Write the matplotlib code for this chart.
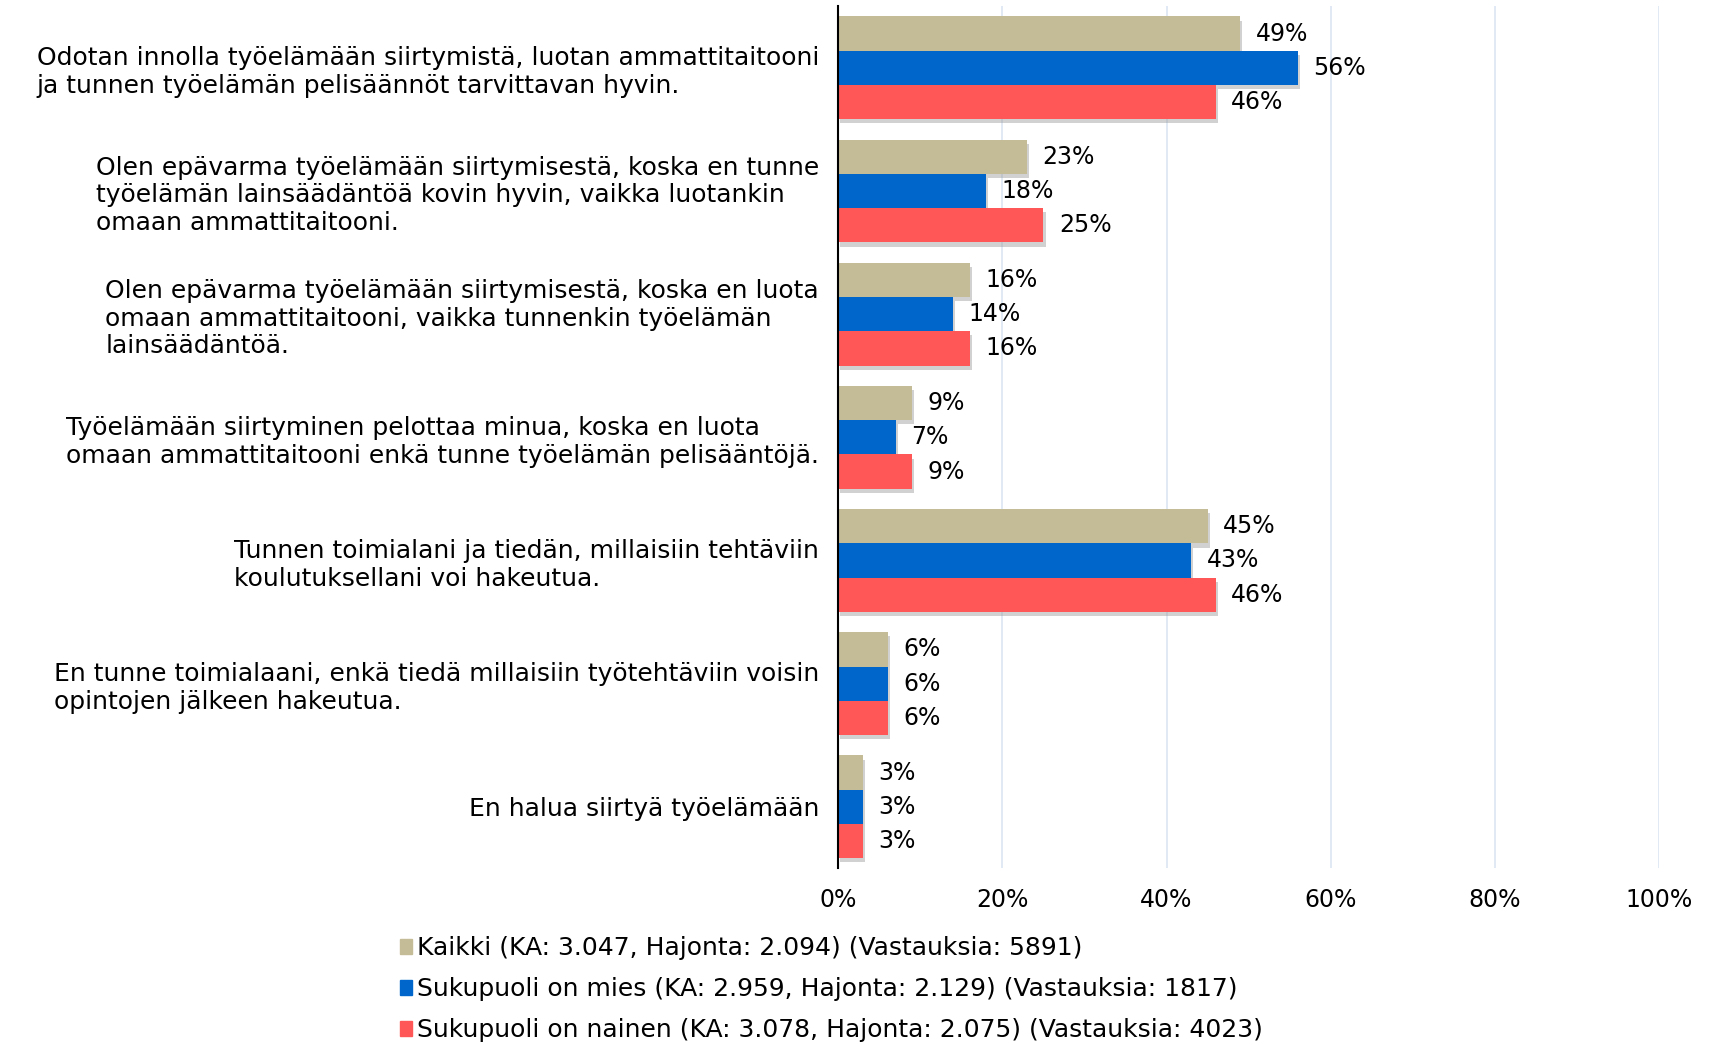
import matplotlib
matplotlib.use("Agg")
import matplotlib.pyplot as plt
import matplotlib.patheffects as pe
from matplotlib.patches import Patch
from matplotlib.ticker import PercentFormatter

categories = [
    "Odotan innolla työelämään siirtymistä, luotan ammattitaitooni\nja tunnen työelämän pelisäännöt tarvittavan hyvin.",
    "Olen epävarma työelämään siirtymisestä, koska en tunne\ntyöelämän lainsäädäntöä kovin hyvin, vaikka luotankin\nomaan ammattitaitooni.",
    "Olen epävarma työelämään siirtymisestä, koska en luota\nomaan ammattitaitooni, vaikka tunnenkin työelämän\nlainsäädäntöä.",
    "Työelämään siirtyminen pelottaa minua, koska en luota\nomaan ammattitaitooni enkä tunne työelämän pelisääntöjä.",
    "Tunnen toimialani ja tiedän, millaisiin tehtäviin\nkoulutuksellani voi hakeutua.",
    "En tunne toimialaani, enkä tiedä millaisiin työtehtäviin voisin\nopintojen jälkeen hakeutua.",
    "En halua siirtyä työelämään",
]
kaikki = [49, 23, 16, 9, 45, 6, 3]
mies = [56, 18, 14, 7, 43, 6, 3]
nainen = [46, 25, 16, 9, 46, 6, 3]
series_labels = [
    "Kaikki (KA: 3.047, Hajonta: 2.094) (Vastauksia: 5891)",
    "Sukupuoli on mies (KA: 2.959, Hajonta: 2.129) (Vastauksia: 1817)",
    "Sukupuoli on nainen (KA: 3.078, Hajonta: 2.075) (Vastauksia: 4023)",
]
colors = ["#C4BC96", "#0066CC", "#FF5757"]

plt.rcParams["font.family"] = ["DejaVu Sans"]
FS = 18
FS_VAL = 17

fig = plt.figure(figsize=(17.11, 10.45), dpi=100)
ax = fig.add_axes([0.490, 0.169, 0.4795, 0.825])

bh = 0.278
shadow = [pe.SimplePatchShadow(offset=(1.5, -3), shadow_rgbFace="#999999", alpha=0.45), pe.Normal()]
for k, vals in enumerate([kaikki, mies, nainen]):
    for i, v in enumerate(vals):
        y = i + (k - 1) * bh
        b = ax.barh(y, v, height=bh, color=colors[k], zorder=3)
        b[0].set_path_effects(shadow)
        ax.text(v + 1.9, y, f"{v}%", va="center", ha="left", fontsize=FS_VAL, zorder=4)

ax.set_xlim(0, 100)
ax.set_ylim(len(categories) - 0.5, -0.5)
ax.set_xticks(range(0, 101, 20))
ax.xaxis.set_major_formatter(PercentFormatter(decimals=0))
ax.set_yticks(range(len(categories)))
ax.set_yticklabels(categories, fontsize=FS, multialignment="left", linespacing=1.2)
ax.tick_params(axis="y", length=0, pad=14)
ax.tick_params(axis="x", length=0, labelsize=FS_VAL, pad=14)
ax.grid(axis="x", color="#DCE6F2", linewidth=1.2, zorder=0)
for s in ["top", "right", "bottom"]:
    ax.spines[s].set_visible(False)
ax.spines["left"].set_color("black")
ax.spines["left"].set_linewidth(1.5)
ax.spines["left"].set_zorder(5)

handles = [Patch(color=c) for c in colors]
fig.legend(handles, series_labels, loc="upper left", bbox_to_anchor=(0.234, 0.104),
           frameon=False, fontsize=FS, handlelength=0.45, handleheight=0.6,
           handletextpad=0.2, labelspacing=0.68, borderpad=0, borderaxespad=0)

fig.savefig("out.png", dpi=100)
